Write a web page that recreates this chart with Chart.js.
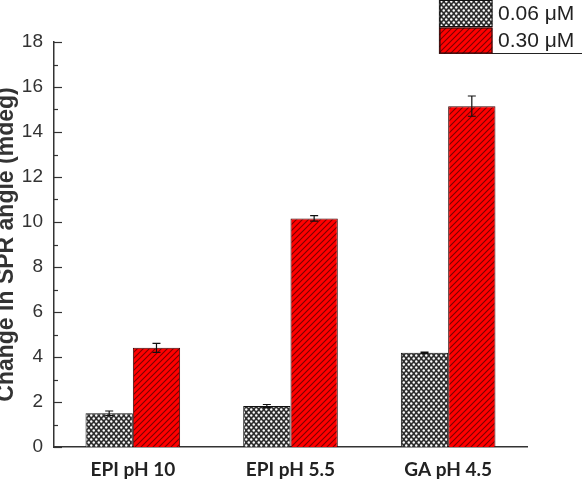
<!DOCTYPE html>
<html>
<head>
<meta charset="utf-8">
<script src="https://cdn.jsdelivr.net/npm/chart.js@4/dist/chart.umd.min.js"></script>
<style>
  html, body { margin: 0; padding: 0; background: #fff; }
  #wrap { width: 582px; height: 482px; }
</style>
</head>
<body>
<div id="wrap"><canvas id="c" width="582" height="482"></canvas></div>
<script>
const categories = ['EPI pH 10', 'EPI pH 5.5', 'GA pH 4.5'];
const seriesLabels = ['0.06 \u03bcM', '0.30 \u03bcM'];
const lowValues = [1.50, 1.82, 4.19];
const lowErrors = [0.10, 0.07, 0.03];
const highValues = [4.41, 10.16, 15.15];
const highErrors = [0.20, 0.12, 0.45];
const yTickValues = [0, 2, 4, 6, 8, 10, 12, 14, 16, 18];

const SANS = 'Arial, "Liberation Sans", Helvetica, sans-serif';

function makeGreyPattern() {
  const t = document.createElement('canvas');
  t.width = 5; t.height = 6;
  const g = t.getContext('2d');
  g.fillStyle = '#2e2e2e';
  g.fillRect(0, 0, 5, 6);
  g.fillStyle = '#ffffff';
  [[1.25, 1.5], [3.75, 4.5]].forEach(([x, y]) => {
    g.beginPath(); g.arc(x, y, 1.2, 0, Math.PI * 2); g.fill();
  });
  return g.createPattern(t, 'repeat');
}
function makeRedPattern() {
  const s = 6;
  const t = document.createElement('canvas');
  t.width = s; t.height = s;
  const g = t.getContext('2d');
  g.fillStyle = '#ff0000';
  g.fillRect(0, 0, s, s);
  g.strokeStyle = '#7a0000';
  g.lineWidth = 1.1;
  g.beginPath();
  g.moveTo(-1, s + 1); g.lineTo(s + 1, -1);
  g.moveTo(-1, 1); g.lineTo(1, -1);
  g.moveTo(s - 1, s + 1); g.lineTo(s + 1, s - 1);
  g.stroke();
  return g.createPattern(t, 'repeat');
}
const greyPat = makeGreyPattern();
const redPat = makeRedPattern();

const errors = [lowErrors, highErrors];

const errorBarPlugin = {
  id: 'errorBars',
  afterDatasetsDraw(chart) {
    const ctx = chart.ctx;
    const y = chart.scales.y;
    ctx.save();
    ctx.strokeStyle = '#111';
    ctx.lineWidth = 1.2;
    chart.data.datasets.forEach((ds, i) => {
      const meta = chart.getDatasetMeta(i);
      meta.data.forEach((bar, j) => {
        const v = ds.data[j], e = errors[i][j];
        const yt = y.getPixelForValue(v + e);
        const yb = y.getPixelForValue(v - e);
        const x = bar.x;
        ctx.beginPath();
        ctx.moveTo(x, yt); ctx.lineTo(x, yb);
        ctx.moveTo(x - 4, yt); ctx.lineTo(x + 4, yt);
        ctx.moveTo(x - 4, yb); ctx.lineTo(x + 4, yb);
        ctx.stroke();
      });
    });
    ctx.restore();
  }
};

const tickPlugin = {
  id: 'innerTicks',
  afterDraw(chart) {
    const ctx = chart.ctx;
    const y = chart.scales.y;
    const left = chart.chartArea.left;
    ctx.save();
    ctx.strokeStyle = '#333';
    ctx.lineWidth = 1.2;
    y.ticks.forEach(t => {
      const py = Math.round(y.getPixelForValue(t.value)) + 0.5;
      const len = yTickValues.includes(t.value) ? 8 : 4;
      ctx.beginPath();
      ctx.moveTo(left, py); ctx.lineTo(left + len, py);
      ctx.stroke();
    });
    ctx.restore();
  }
};

const legendPlugin = {
  id: 'boxLegend',
  afterDraw(chart) {
    const ctx = chart.ctx;
    ctx.save();
    const x0 = 439.5, w = 53, rows = [[0, 27], [27.5, 26]];
    ctx.strokeStyle = '#222';
    ctx.lineWidth = 1.2;
    ctx.beginPath();
    ctx.moveTo(x0, -1); ctx.lineTo(x0, 53.5); ctx.lineTo(582, 53.5);
    ctx.stroke();
    chart.data.datasets.forEach((ds, i) => {
      const [ry, rh] = rows[i];
      ctx.fillStyle = ds.backgroundColor;
      ctx.fillRect(x0, ry, w, rh);
      ctx.strokeStyle = '#111';
      ctx.lineWidth = 1;
      ctx.strokeRect(x0 + 0.5, ry + 0.5, w - 1, rh - 1);
      ctx.fillStyle = '#222';
      ctx.font = '21px ' + SANS;
      ctx.textBaseline = 'middle';
      ctx.textAlign = 'left';
      ctx.fillText(ds.label, 498, ry + rh / 2 + 1);
    });
    ctx.restore();
  }
};

new Chart(document.getElementById('c'), {
  type: 'bar',
  data: {
    labels: categories,
    datasets: [
      { label: seriesLabels[0], data: lowValues, backgroundColor: greyPat, borderColor: '#111', borderWidth: 1 },
      { label: seriesLabels[1], data: highValues, backgroundColor: redPat, borderColor: '#3a0000', borderWidth: 1 }
    ]
  },
  options: {
    responsive: false,
    animation: false,
    devicePixelRatio: 1,
    layout: { padding: { top: 42, right: 55, left: 0, bottom: 0 } },
    datasets: { bar: { categoryPercentage: 0.6, barPercentage: 1.0 } },
    plugins: { legend: { display: false }, tooltip: { enabled: false }, title: { display: false } },
    scales: {
      x: {
        grid: { display: false, drawTicks: false },
        border: { display: true, color: '#333', width: 1.5 },
        ticks: { color: '#222', font: { family: 'Lato, "Open Sans", sans-serif', size: 19, weight: 'bold' }, padding: 11 },
        afterFit(s) { s.height = 35; }
      },
      y: {
        min: 0, max: 18,
        grid: { display: false, drawTicks: false },
        border: { display: true, color: '#333', width: 1.5 },
        ticks: {
          stepSize: 1,
          autoSkip: false,
          color: '#333',
          font: { family: SANS, size: 19 },
          padding: 11,
          callback: v => yTickValues.includes(v) ? String(v) : ''
        },
        title: {
          display: true,
          text: 'Change in SPR angle (mdeg)',
          color: '#333',
          font: { family: SANS, size: 23, weight: 'bold' },
          padding: { top: -7, bottom: 0 }
        },
        afterFit(s) { s.width = 54; }
      }
    }
  },
  plugins: [errorBarPlugin, tickPlugin, legendPlugin]
});
</script>
</body>
</html>
